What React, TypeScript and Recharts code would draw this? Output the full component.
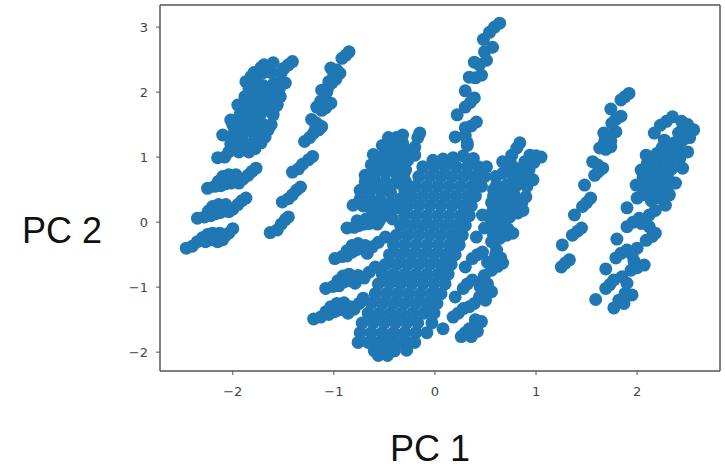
import { ReferenceLine, Scatter, ScatterChart, XAxis, YAxis } from "recharts";

type Pair = [number, number];

const xTicks = [-2, -1, 0, 1, 2];
const yTicks = [-2, -1, 0, 1, 2, 3];
const xDomain = [-2.72, 2.82];
const yDomain = [-2.29, 3.34];

// far left group, lower stripes
const leftLower: Pair[] = [
  [-2.46, -0.4], [-2.4, -0.37], [-2.35, -0.3], [-2.3, -0.24], [-2.25, -0.19], [-2.2, -0.17], [-2.13, -0.17],
  [-2.15, -0.3], [-2.08, -0.22], [-2.04, -0.17], [-2.0, -0.1], [-2.27, -0.3], [-2.22, -0.27], [-2.17, -0.24], [-2.1, -0.27],
  [-2.35, 0.06], [-2.28, 0.08], [-2.24, 0.17], [-2.2, 0.24], [-2.14, 0.27], [-2.07, 0.27], [-2.04, 0.16],
  [-2.0, 0.2], [-1.95, 0.27], [-1.91, 0.33], [-1.87, 0.37], [-2.22, 0.1], [-2.17, 0.13], [-2.12, 0.15], [-2.07, 0.18],
  [-2.25, 0.52], [-2.18, 0.55], [-2.14, 0.63], [-2.1, 0.7], [-2.04, 0.73], [-1.97, 0.73], [-1.94, 0.6],
  [-1.9, 0.66], [-1.85, 0.72], [-1.81, 0.78], [-1.77, 0.83], [-2.12, 0.56], [-2.07, 0.59], [-2.02, 0.6], [-1.97, 0.64],
  [-2.15, 0.99], [-2.08, 1.0], [-2.04, 1.08], [-1.94, 1.08], [-1.84, 1.08],
];

// far left group, dense upper part
const leftUpper: Pair[] = [
  [-2.02, 1.2], [-1.92, 1.2], [-1.82, 1.2], [-1.72, 1.22], [-1.78, 1.13], [-1.98, 1.14],
  [-2.1, 1.34], [-2.0, 1.34], [-1.9, 1.34], [-1.78, 1.33], [-1.68, 1.31],
  [-1.95, 1.42], [-1.85, 1.42], [-1.75, 1.42], [-1.65, 1.42],
  [-2.0, 1.5], [-1.9, 1.5], [-1.8, 1.5], [-1.7, 1.5], [-1.62, 1.5],
  [-2.02, 1.57], [-1.93, 1.65], [-1.83, 1.65], [-1.73, 1.65], [-1.6, 1.65],
  [-1.88, 1.72], [-1.78, 1.72], [-1.68, 1.72], [-1.6, 1.72],
  [-1.95, 1.8], [-1.85, 1.8], [-1.75, 1.8], [-1.65, 1.8], [-1.56, 1.8],
  [-1.8, 1.87], [-1.7, 1.87], [-1.6, 1.87],
  [-1.88, 1.93], [-1.78, 1.93], [-1.68, 1.93], [-1.58, 1.93], [-1.53, 1.93],
  [-1.8, 1.99], [-1.7, 1.99], [-1.6, 1.99],
  [-1.84, 2.05], [-1.74, 2.05], [-1.64, 2.05], [-1.54, 2.05], [-1.7, 2.1], [-1.6, 2.12],
  [-1.87, 2.16], [-1.77, 2.16], [-1.53, 2.16], [-1.48, 2.14],
  [-1.79, 2.3], [-1.7, 2.3], [-1.62, 2.3], [-1.69, 2.42], [-1.6, 2.45], [-1.72, 2.38], [-1.82, 2.24],
  [-1.52, 2.3], [-1.49, 2.37], [-1.45, 2.42], [-1.41, 2.47],
];

// thin stripe next to it
const leftThin: Pair[] = [
  [-1.63, -0.16], [-1.56, -0.12], [-1.52, -0.03], [-1.48, 0.04], [-1.45, 0.08],
  [-1.51, 0.31], [-1.45, 0.36], [-1.41, 0.42], [-1.37, 0.49], [-1.33, 0.54],
  [-1.41, 0.77], [-1.35, 0.82], [-1.31, 0.89], [-1.25, 0.96], [-1.21, 1.01],
  [-1.29, 1.24], [-1.24, 1.3], [-1.2, 1.37], [-1.15, 1.42], [-1.12, 1.47], [-1.22, 1.58], [-1.18, 1.45], [-1.17, 1.52],
  [-1.17, 1.77], [-1.12, 1.72], [-1.08, 1.76], [-1.03, 1.83], [-1.13, 1.86], [-1.08, 1.85],
  [-1.12, 2.03], [-1.06, 2.07], [-1.02, 2.14], [-0.98, 2.2], [-0.94, 2.29], [-1.03, 2.37], [-0.97, 2.34],
  [-1.07, 2.0], [-1.0, 2.27], [-1.05, 2.16],
  [-0.92, 2.52], [-0.88, 2.57], [-0.85, 2.62],
];

// stripes left of the central mass
const centerLeft: Pair[] = [
  [-1.2, -1.49], [-1.13, -1.46], [-1.08, -1.38], [-1.03, -1.3], [-0.97, -1.25], [-0.9, -1.24], [-0.86, -1.4],
  [-0.84, -1.3], [-0.8, -1.34], [-0.75, -1.25], [-0.71, -1.17], [-1.05, -1.42], [-1.0, -1.38], [-0.95, -1.35], [-0.9, -1.33],
  [-1.08, -1.02], [-1.01, -0.99], [-0.96, -0.9], [-0.91, -0.83], [-0.85, -0.8], [-0.79, -0.94],
  [-0.76, -0.82], [-0.7, -0.86], [-0.65, -0.77], [-0.59, -0.69], [-0.95, -0.98], [-0.9, -0.92], [-0.85, -0.9], [-0.81, -0.85],
  [-0.99, -0.56], [-0.92, -0.53], [-0.87, -0.44], [-0.82, -0.36], [-0.76, -0.33], [-0.67, -0.48],
  [-0.69, -0.36], [-0.62, -0.38], [-0.56, -0.31], [-0.49, -0.23], [-0.87, -0.52], [-0.82, -0.46], [-0.77, -0.42], [-0.72, -0.4],
  [-0.87, -0.09], [-0.8, -0.08], [-0.77, 0.02], [-0.68, 0.05], [-0.57, -0.03], [-0.6, 0.07], [-0.5, 0.1],
  [-0.44, 0.16], [-0.37, 0.22], [-0.75, -0.05], [-0.7, -0.03], [-0.65, -0.02], [-0.42, 0.05], [-0.55, 0.02],
  [-0.81, 0.26], [-0.71, 0.25], [-0.61, 0.25], [-0.53, 0.22], [-0.74, 0.36], [-0.64, 0.36], [-0.54, 0.34],
  [-0.62, 0.14], [-0.52, 0.14], [-0.44, 0.3], [-0.34, 0.36],
  [-0.74, 0.49], [-0.64, 0.49], [-0.54, 0.49], [-0.44, 0.46], [-0.3, 0.5], [-0.69, 0.62], [-0.59, 0.62], [-0.49, 0.62], [-0.39, 0.6], [-0.29, 0.62],
  [-0.69, 0.72], [-0.59, 0.76], [-0.49, 0.76], [-0.39, 0.76], [-0.31, 0.72], [-0.63, 0.88], [-0.53, 0.88],
  [-0.43, 0.88], [-0.33, 0.88], [-0.29, 0.8], [-0.27, 0.95], [-0.58, 0.95], [-0.48, 0.95], [-0.38, 0.95],
  [-0.61, 1.04], [-0.51, 1.02], [-0.41, 1.02], [-0.31, 1.04], [-0.2, 1.03],
  [-0.48, 1.1], [-0.38, 1.12], [-0.28, 1.1], [-0.2, 1.15],
  [-0.52, 1.18], [-0.42, 1.2], [-0.32, 1.22], [-0.46, 1.3], [-0.38, 1.3], [-0.32, 1.34], [-0.17, 1.3], [-0.15, 1.37],
];

// central mass, lowest blob first
const centerMass: Pair[] = [
  [-0.56, -2.05], [-0.47, -2.05],
  [-0.6, -1.98], [-0.5, -1.98], [-0.4, -1.98], [-0.28, -1.97],
  [-0.76, -1.85], [-0.66, -1.85], [-0.56, -1.85], [-0.46, -1.85], [-0.36, -1.85], [-0.26, -1.85], [-0.2, -1.85],
  [-0.74, -1.7], [-0.63, -1.7], [-0.52, -1.7], [-0.41, -1.7], [-0.3, -1.7], [-0.19, -1.7], [-0.08, -1.7],
  [-0.72, -1.55], [-0.61, -1.55], [-0.5, -1.55], [-0.39, -1.55], [-0.28, -1.55], [-0.17, -1.55], [-0.03, -1.55],
  [-0.66, -1.4], [-0.55, -1.4], [-0.44, -1.4], [-0.33, -1.4], [-0.22, -1.4], [-0.11, -1.4], [-0.01, -1.4],
  [-0.63, -1.25], [-0.52, -1.25], [-0.41, -1.25], [-0.3, -1.25], [-0.19, -1.25], [-0.08, -1.25], [0.02, -1.25],
  [-0.59, -1.1], [-0.48, -1.1], [-0.37, -1.1], [-0.26, -1.1], [-0.15, -1.1], [-0.04, -1.1], [0.06, -1.1],
  [-0.56, -0.95], [-0.45, -0.95], [-0.34, -0.95], [-0.23, -0.95], [-0.12, -0.95], [-0.01, -0.95], [0.1, -0.95],
  [-0.52, -0.8], [-0.41, -0.8], [-0.3, -0.8], [-0.19, -0.8], [-0.08, -0.8], [0.03, -0.8], [0.13, -0.8],
  [-0.49, -0.65], [-0.38, -0.65], [-0.27, -0.65], [-0.16, -0.65], [-0.05, -0.65], [0.06, -0.65], [0.16, -0.65],
  [-0.45, -0.5], [-0.34, -0.5], [-0.23, -0.5], [-0.12, -0.5], [-0.01, -0.5], [0.1, -0.5], [0.2, -0.5],
  [-0.41, -0.35], [-0.3, -0.35], [-0.19, -0.35], [-0.08, -0.35], [0.03, -0.35], [0.14, -0.35], [0.24, -0.35],
  [-0.38, -0.2], [-0.27, -0.2], [-0.16, -0.2], [-0.05, -0.2], [0.06, -0.2], [0.17, -0.2], [0.27, -0.2],
  [-0.34, -0.05], [-0.23, -0.05], [-0.12, -0.05], [-0.01, -0.05], [0.1, -0.05], [0.21, -0.05], [0.3, -0.05],
  [-0.3, 0.1], [-0.19, 0.1], [-0.08, 0.1], [0.03, 0.1], [0.14, 0.1], [0.25, 0.1], [0.34, 0.1],
  [-0.27, 0.25], [-0.16, 0.25], [-0.05, 0.25], [0.06, 0.25], [0.17, 0.25], [0.28, 0.25], [0.36, 0.25],
  [-0.23, 0.4], [-0.12, 0.4], [-0.01, 0.4], [0.1, 0.4], [0.21, 0.4], [0.32, 0.4], [0.4, 0.4],
  [-0.19, 0.55], [-0.08, 0.55], [0.03, 0.55], [0.14, 0.55], [0.25, 0.55], [0.36, 0.55], [0.46, 0.55],
  [-0.16, 0.7], [-0.05, 0.7], [0.06, 0.7], [0.17, 0.7], [0.28, 0.7], [0.39, 0.7], [0.49, 0.7],
  [-0.12, 0.85], [-0.01, 0.85], [0.1, 0.85], [0.21, 0.85], [0.32, 0.85], [0.43, 0.85], [0.51, 0.85],
  [-0.02, 0.95], [0.08, 0.97], [0.18, 0.99], [0.28, 1.02], [0.38, 0.98],
];

// stripe rising to the top of the plot
const centerTop: Pair[] = [
  [0.32, 1.18], [0.32, 1.22], [0.2, 1.31], [0.3, 1.33], [0.3, 1.45], [0.36, 1.48], [0.41, 1.54],
  [0.22, 1.65], [0.3, 1.77], [0.35, 1.84], [0.39, 1.91], [0.3, 2.02],
  [0.34, 2.23], [0.4, 2.22], [0.46, 2.26], [0.39, 2.46], [0.44, 2.42], [0.51, 2.49], [0.49, 2.62], [0.57, 2.69],
  [0.48, 2.81], [0.54, 2.92], [0.59, 3.0], [0.64, 3.06],
];

// stripes right of the central mass
const centerRight: Pair[] = [
  [0.08, -1.64], [0.18, -1.46], [0.23, -1.4], [0.28, -1.33], [0.34, -1.3], [0.39, -1.25],
  [0.26, -1.76], [0.3, -1.7], [0.34, -1.64], [0.4, -1.58], [0.46, -1.53], [0.36, -1.76], [0.42, -1.68], [0.4, -1.5],
  [0.2, -1.15], [0.28, -1.02], [0.32, -0.95], [0.37, -0.89], [0.44, -1.15], [0.5, -1.1], [0.56, -1.07],
  [0.45, -1.0], [0.47, -0.9], [0.49, -0.82], [0.5, -1.2], [0.52, -0.95],
  [0.3, -0.69], [0.37, -0.56], [0.42, -0.5], [0.47, -0.46], [0.56, -0.74], [0.62, -0.68], [0.67, -0.63],
  [0.57, -0.6], [0.6, -0.5], [0.61, -0.43], [0.52, -0.62], [0.65, -0.55],
  [0.41, -0.23], [0.49, -0.09], [0.56, 0], [0.64, -0.25], [0.71, -0.2], [0.77, -0.17], [0.67, -0.07], [0.72, -0.1],
  [0.58, -0.2], [0.66, -0.15], [0.6, -0.1], [0.56, -0.3],
  [0.47, 0.11], [0.56, 0.14], [0.64, 0.08], [0.74, 0.08], [0.82, 0.14], [0.87, 0.18], [0.62, 0.2], [0.72, 0.2],
  [0.56, 0.3], [0.66, 0.28], [0.76, 0.28], [0.86, 0.3], [0.9, 0.39], [0.58, 0.4], [0.68, 0.43], [0.78, 0.43], [0.7, 0.35], [0.8, 0.35],
  [0.61, 0.57], [0.71, 0.57], [0.81, 0.57], [0.91, 0.55], [0.97, 0.65], [0.67, 0.75], [0.77, 0.72], [0.87, 0.72],
  [0.58, 0.5], [0.6, 0.7], [0.85, 0.65], [0.72, 0.82], [0.82, 0.82], [0.75, 0.9],
  [0.93, 0.8], [0.67, 0.93], [0.89, 0.93], [0.94, 1.03], [1.0, 1.02], [1.05, 1.0], [0.98, 0.92],
  [0.76, 1.03], [0.81, 1.14], [0.84, 1.22],
];

// first stripe group on the right
const rightThin: Pair[] = [
  [1.25, -0.69], [1.29, -0.63], [1.33, -0.58],
  [1.26, -0.35], [1.36, -0.2], [1.41, -0.14], [1.45, -0.09],
  [1.38, 0.11], [1.46, 0.24], [1.5, 0.3], [1.54, 0.37],
  [1.48, 0.57], [1.58, 0.72], [1.62, 0.78], [1.66, 0.83], [1.56, 0.93], [1.61, 0.88],
  [1.63, 1.14], [1.69, 1.12], [1.74, 1.16], [1.67, 1.37], [1.73, 1.33], [1.79, 1.39], [1.68, 1.25], [1.74, 1.25],
  [1.75, 1.52], [1.84, 1.63], [1.79, 1.58], [1.74, 1.74], [1.84, 1.88], [1.88, 1.93], [1.92, 1.98],
];

// dense group at the far right
const rightDense: Pair[] = [
  [1.59, -1.19], [1.69, -1.02], [1.73, -0.96], [1.77, -0.89], [1.85, -0.84], [1.9, -0.94],
  [1.77, -1.32], [1.82, -1.2], [1.87, -1.25], [1.95, -1.12], [1.88, -1.1],
  [1.69, -0.72], [1.79, -0.55], [1.84, -0.48], [1.9, -0.43], [2.0, -0.4], [1.94, -0.74], [2.0, -0.7], [2.07, -0.66],
  [1.97, -0.6], [1.95, -0.5],
  [1.8, -0.26], [1.9, -0.07], [1.96, 0], [2.02, 0.06], [2.12, 0.11], [2.09, -0.28], [2.15, -0.22], [2.18, -0.17],
  [2.12, -0.07], [2.04, -0.02],
  [1.9, 0.22], [2.0, 0.37], [2.05, 0.42], [2.1, 0.47], [2.28, 0.26], [2.18, 0.18], [2.22, 0.37], [2.14, 0.33],
  [2.14, 0.45], [2.25, 0.47], [2.32, 0.42],
  [1.99, 0.57], [2.09, 0.57], [2.19, 0.57], [2.29, 0.5], [2.38, 0.6], [2.15, 0.65], [2.25, 0.6], [2.35, 0.6],
  [2.04, 0.8], [2.1, 0.7], [2.2, 0.7], [2.3, 0.7], [2.14, 0.82], [2.24, 0.82], [2.34, 0.82], [2.45, 0.83], [2.06, 0.7], [2.1, 0.9],
  [2.09, 1.03], [2.14, 0.95], [2.24, 0.95], [2.34, 0.95], [2.42, 0.97], [2.2, 1.06], [2.3, 1.08], [2.4, 1.08], [2.5, 1.08],
  [2.25, 1.15], [2.33, 1.15], [2.4, 1.18],
  [2.27, 1.26], [2.37, 1.22], [2.45, 1.26], [2.17, 1.37], [2.23, 1.49], [2.29, 1.55], [2.35, 1.62],
  [2.41, 1.37], [2.48, 1.49], [2.56, 1.42], [2.5, 1.38], [2.45, 1.43], [2.52, 1.3], [2.5, 1.5], [2.44, 1.55],
];

const groups = [leftLower, leftUpper, leftThin, centerLeft, centerMass, centerTop, centerRight, rightThin, rightDense];

const toRows = (pairs: Pair[]) => pairs.map(([x, y]) => ({ x, y }));

const tickStyle = { fontSize: 13, fill: "#444", fontFamily: "DejaVu Sans" };
const frame = "#555";
const labelStyle = {
  position: "absolute" as const,
  fontFamily: "Liberation Sans",
  fontSize: 36,
  color: "#111",
  lineHeight: 1,
};

const formatTick = (v: number) => String(v).replace("-", "\u2212");

const Dot = (props: any) => <circle cx={props.cx} cy={props.cy} r={6.5} fill="#1f77b4" />;

export default function App() {
  return (
    <div style={{ position: "absolute", left: 0, top: 0, width: 725, height: 468, background: "#fff" }}>
      <ScatterChart width={725} height={468} margin={{ top: 5, right: 5, bottom: 67, left: 120 }}>
        <XAxis
          type="number"
          dataKey="x"
          domain={xDomain}
          ticks={xTicks}
          tickFormatter={formatTick}
          tick={tickStyle}
          tickSize={4}
          tickMargin={12}
          tickLine={{ stroke: frame }}
          axisLine={{ stroke: frame, strokeWidth: 1.5 }}
          height={30}
        />
        <YAxis
          type="number"
          dataKey="y"
          domain={yDomain}
          ticks={yTicks}
          tickFormatter={formatTick}
          tick={tickStyle}
          tickSize={4}
          tickMargin={8}
          tickLine={{ stroke: frame }}
          axisLine={{ stroke: frame, strokeWidth: 1.5 }}
          width={40}
        />
        <ReferenceLine y={yDomain[1]} stroke={frame} strokeWidth={1.5} />
        <ReferenceLine x={xDomain[1]} stroke={frame} strokeWidth={1.5} />
        {groups.map((g, i) => (
          <Scatter key={i} data={toRows(g)} shape={Dot} isAnimationActive={false} />
        ))}
      </ScatterChart>
      <div style={{ ...labelStyle, left: 22, top: 213 }}>PC 2</div>
      <div style={{ ...labelStyle, left: 390, top: 431 }}>PC 1</div>
    </div>
  );
}
